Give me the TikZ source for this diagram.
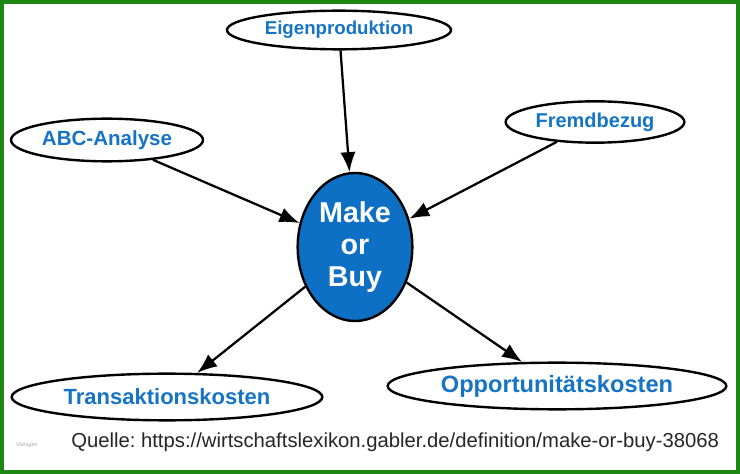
\documentclass[tikz,border=0pt]{standalone}
\usepackage{fontspec}
\setmainfont{Liberation Sans}
\usetikzlibrary{shapes.geometric,arrows.meta}
\definecolor{rahmen}{RGB}{30,135,20}
\definecolor{textblau}{RGB}{22,116,198}
\definecolor{kernblau}{RGB}{14,112,196}
\tikzset{
  begriff/.style={ellipse,draw,line width=1.8pt,fill=white,inner sep=0pt,text=textblau},
  pfeil/.style={-{Latex[length=15pt,width=11.5pt]},line width=1.7pt}
}
\begin{document}
\frenchspacing
\begin{tikzpicture}[x=0.75pt,y=-0.75pt]
    \useasboundingbox (0,0) rectangle (740,474);
    \fill[white] (0,0) rectangle (740,474);
    \draw[rahmen,line width=3pt] (2,2) rectangle (738,472);
    % begriffe
    \node[begriff,minimum width=168pt,minimum height=29pt,font=\bfseries\fontsize{14}{16}\selectfont] (eigen) at (339,30) {Eigenproduktion};
    \node[begriff,minimum width=144pt,minimum height=32pt,font=\bfseries\fontsize{15.4}{18}\selectfont] (abc) at (107,140) {ABC-Analyse};
    \node[begriff,minimum width=134pt,minimum height=31pt,font=\bfseries\fontsize{15}{18}\selectfont] (fremd) at (595,122) {Fremdbezug};
    \node[begriff,minimum width=233pt,minimum height=35pt,font=\bfseries\fontsize{16.5}{19}\selectfont] (trans) at (167,397) {Transaktionskosten};
    \node[begriff,minimum width=254pt,minimum height=35pt,font=\bfseries\fontsize{17.7}{20}\selectfont] (opp) at (557,386) {Opportunitätskosten};
    % mitte
    \node[ellipse,draw,line width=1.8pt,fill=kernblau,text=white,inner sep=0pt,align=center,
          minimum width=86pt,minimum height=111pt,font=\bfseries\fontsize{21.5}{24}\selectfont] (mob) at (355,247) {Make\\or\\Buy};
    % pfeile
    \draw[pfeil] (eigen) -- (mob);
    \draw[pfeil] (abc) -- (mob);
    \draw[pfeil] (fremd) -- (mob);
    \draw[pfeil] (mob) -- (trans);
    \draw[pfeil] (mob) -- (opp);
    % quelle
    \node[anchor=base west,text=black!85,inner sep=0pt,font=\fontsize{15.2}{18}\selectfont] (quelle) at (71,447) {Quelle: https://wirtschaftslexikon.gabler.de/definition/make-or-buy-38068};
    \node[anchor=base,text=black!35,inner sep=0pt,font=\fontsize{4}{5}\selectfont] (vorlagen) at (27,446) {Vorlagen};
\end{tikzpicture}
\end{document}
